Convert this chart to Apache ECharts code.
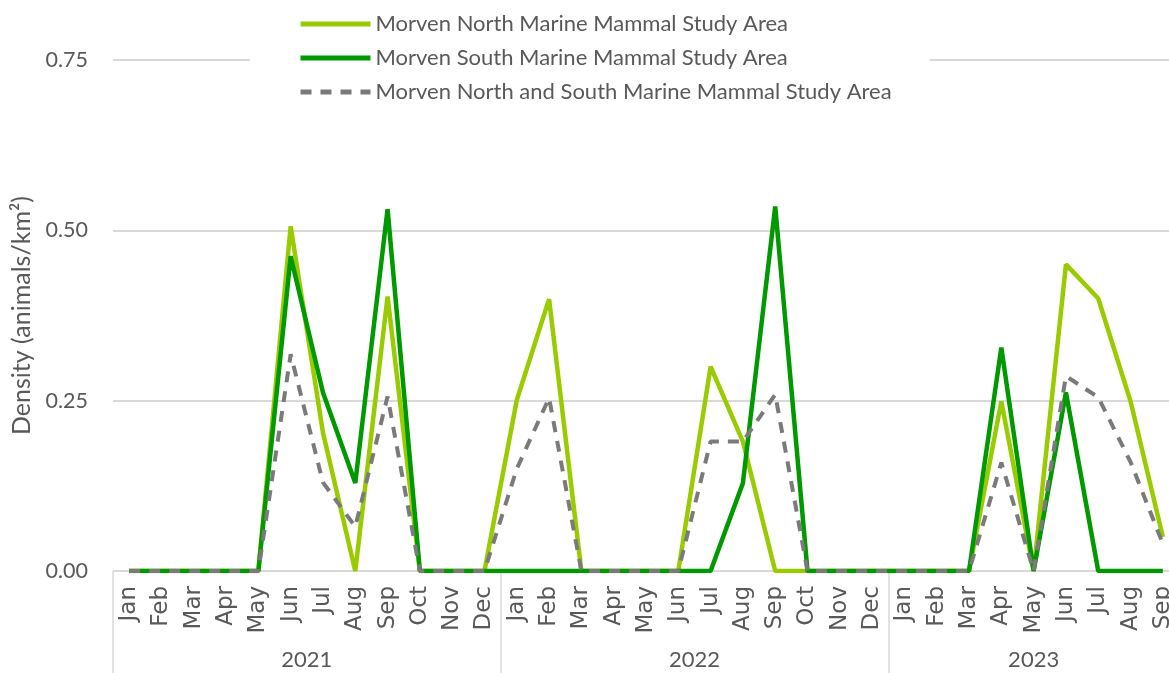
<!DOCTYPE html>
<html>
<head>
<meta charset="utf-8">
<script src="https://cdn.jsdelivr.net/npm/echarts@6/dist/echarts.min.js"></script>
<style>
html,body{margin:0;padding:0;background:#fff;}
#chart{width:1169px;height:673px;}
</style>
</head>
<body>
<div id="chart"></div>
<script>
var months = ['Jan','Feb','Mar','Apr','May','Jun','Jul','Aug','Sep','Oct','Nov','Dec',
              'Jan','Feb','Mar','Apr','May','Jun','Jul','Aug','Sep','Oct','Nov','Dec',
              'Jan','Feb','Mar','Apr','May','Jun','Jul','Aug','Sep'];
var years = ['2021','2022','2023'];
var yearCentres = [5.5, 17.5, 28];
var yearBounds = [-0.5, 11.5, 23.5];

var northName = 'Morven North Marine Mammal Study Area';
var southName = 'Morven South Marine Mammal Study Area';
var combinedName = 'Morven North and South Marine Mammal Study Area';

var north = [0,0,0,0,0,0.506,0.203,0,0.403,0,0,0,
             0.251,0.399,0,0,0,0,0.30,0.19,0,0,0,0,
             0,0,0,0.249,0,0.45,0.40,0.249,0.05];
var south = [0,0,0,0,0,0.462,0.262,0.129,0.531,0,0,0,
             0,0,0,0,0,0,0,0.129,0.535,0,0,0,
             0,0,0,0.328,0,0.262,0,0,0];
var combined = [0,0,0,0,0,0.318,0.13,0.065,0.256,0,0,0,
                0.15,0.254,0,0,0,0,0.19,0.19,0.259,0,0,0,
                0,0,0,0.159,0,0.286,0.255,0.16,0.04];

var chart = echarts.init(document.getElementById('chart'));
var txt = '#595959';
var font = 'Lato';
chart.setOption({
  animation: false,
  backgroundColor: '#fff',
  grid: {left: 113, right: -10, top: 60, bottom: 102, containLabel: false, outerBoundsMode: 'none'},
  legend: {
    orient: 'vertical',
    left: 250,
    top: 7,
    padding: [6, 38, 6, 48],
    backgroundColor: '#fff',
    itemWidth: 70,
    itemHeight: 16,
    itemGap: 12,
    lineStyle: {width: 5},
    itemStyle: {opacity: 0},
    data: [northName, southName, combinedName],
    textStyle: {fontFamily: font, fontSize: 22, color: txt}
  },
  xAxis: [{
    type: 'category',
    data: months,
    boundaryGap: true,
    axisLine: {show: false},
    axisTick: {show: false},
    axisLabel: {rotate: 90, margin: 15, interval: 0, fontFamily: '"DejaVu Sans", Verdana, sans-serif', fontSize: 23, color: txt}
  }, {
    type: 'value',
    position: 'bottom',
    min: -0.5,
    max: 32.5,
    axisLine: {show: false},
    splitLine: {show: false},
    axisTick: {show: true, customValues: yearBounds, length: 110, lineStyle: {color: '#d9d9d9', width: 1.5}},
    axisLabel: {customValues: yearCentres, margin: 78, fontFamily: font, fontSize: 22, color: txt,
      formatter: function (v) { var i = yearCentres.indexOf(v); return i >= 0 ? years[i] : ''; }}
  }],
  yAxis: {
    type: 'value',
    min: 0,
    max: 0.75,
    interval: 0.25,
    name: 'Density (animals/km²)',
    nameLocation: 'middle',
    nameGap: 77,
    nameTextStyle: {fontFamily: font, fontSize: 25, color: txt},
    axisLine: {show: false},
    axisTick: {show: false},
    axisLabel: {margin: 25, fontFamily: font, fontSize: 21.5, color: txt,
      formatter: function (v) { return v.toFixed(2); }},
    splitLine: {lineStyle: {color: '#d9d9d9', width: 2}}
  },
  series: [{
    name: northName, type: 'line', data: north, symbol: 'none',
    itemStyle: {color: '#99cc00'},
    lineStyle: {color: '#99cc00', width: 4.5}
  }, {
    name: southName, type: 'line', data: south, symbol: 'none',
    itemStyle: {color: '#009900'},
    lineStyle: {color: '#009900', width: 4.5}
  }, {
    name: combinedName, type: 'line', data: combined, symbol: 'none',
    itemStyle: {color: '#7a7a7a'},
    lineStyle: {color: '#7a7a7a', width: 4, type: [11, 9]}
  }]
});
</script>
</body>
</html>
